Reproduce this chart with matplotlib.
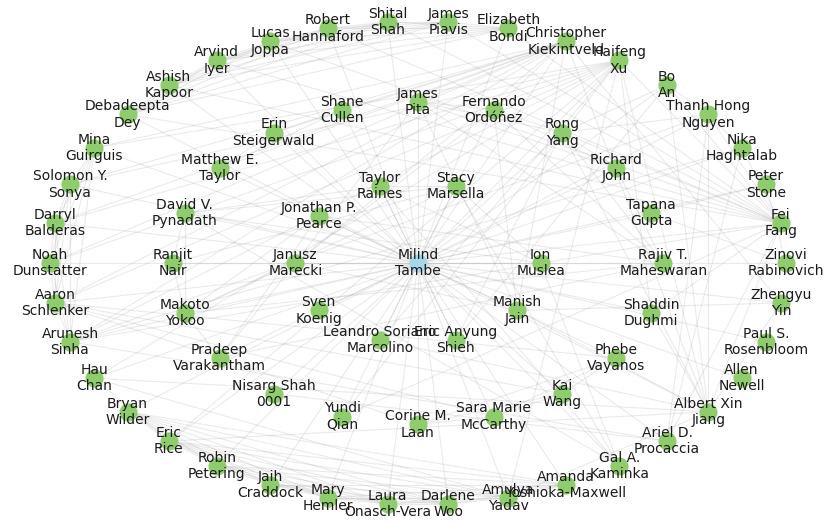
import matplotlib
matplotlib.use('Agg')
import matplotlib.pyplot as plt
from matplotlib.collections import LineCollection
import numpy as np


# shells of the co-author graph (angle slots counter-clockwise from the right)
center = ['Milind Tambe']
inner_shell = ['Ion Muslea', None, 'Stacy Marsella', 'Taylor Raines', 'Jonathan P. Pearce',
               'Janusz Marecki', 'Sven Koenig', 'Leandro Soriano Marcolino', 'Eric Anyung Shieh',
               'Manish Jain']
middle_shell = ['Rajiv T. Maheswaran', 'Tapana Gupta', 'Richard John', 'Rong Yang',
                'Fernando Ordóñez', 'James Pita', 'Shane Cullen', 'Erin Steigerwald',
                'Matthew E. Taylor', 'David V. Pynadath', 'Ranjit Nair', 'Makoto Yokoo',
                'Pradeep Varakantham', 'Nisarg Shah 0001', 'Yundi Qian', 'Corine M. Laan',
                'Sara Marie McCarthy', 'Kai Wang', 'Phebe Vayanos', 'Shaddin Dughmi']
outer_shell = ['Zinovi Rabinovich', 'Fei Fang', 'Peter Stone', 'Nika Haghtalab',
               'Thanh Hong Nguyen', 'Bo An', 'Haifeng Xu', 'Christopher Kiekintveld',
               'Elizabeth Bondi', 'James Piavis', 'Shital Shah', 'Robert Hannaford',
               'Lucas Joppa', 'Arvind Iyer', 'Ashish Kapoor', 'Debadeepta Dey',
               'Mina Guirguis', 'Solomon Y. Sonya', 'Darryl Balderas', 'Noah Dunstatter',
               'Aaron Schlenker', 'Arunesh Sinha', 'Hau Chan', 'Bryan Wilder', 'Eric Rice',
               'Robin Petering', 'Jaih Craddock', 'Mary Hemler', 'Laura Onasch-Vera',
               'Darlene Woo', 'Amulya Yadav', 'Amanda Yoshioka-Maxwell', 'Gal A. Kaminka',
               'Ariel D. Procaccia', 'Albert Xin Jiang', 'Allen Newell', 'Paul S. Rosenbloom',
               'Zhengyu Yin']

# co-author groups (every pair in a group is an edge)
groups = [
    ['Elizabeth Bondi', 'Debadeepta Dey', 'Ashish Kapoor', 'James Piavis', 'Shital Shah',
     'Fei Fang', 'Robert Hannaford', 'Arvind Iyer', 'Lucas Joppa'],
    ['Aaron Schlenker', 'Haifeng Xu', 'Mina Guirguis', 'Christopher Kiekintveld',
     'Arunesh Sinha', 'Solomon Y. Sonya', 'Darryl Balderas', 'Noah Dunstatter'],
    ['Amulya Yadav', 'Bryan Wilder', 'Eric Rice', 'Robin Petering', 'Jaih Craddock',
     'Amanda Yoshioka-Maxwell', 'Mary Hemler', 'Laura Onasch-Vera', 'Darlene Woo'],
    ['Amulya Yadav', 'Hau Chan', 'Albert Xin Jiang', 'Haifeng Xu', 'Eric Rice'],
    ['Nika Haghtalab', 'Fei Fang', 'Thanh Hong Nguyen', 'Arunesh Sinha', 'Ariel D. Procaccia'],
    ['Jonathan P. Pearce', 'Rajiv T. Maheswaran', 'Pradeep Varakantham', 'Makoto Yokoo'],
    ['Ranjit Nair', 'Makoto Yokoo', 'David V. Pynadath', 'Stacy Marsella'],
    ['Pradeep Varakantham', 'Janusz Marecki', 'Makoto Yokoo'],
    ['Paul S. Rosenbloom', 'Allen Newell'],
    ['Gal A. Kaminka', 'David V. Pynadath', 'Ion Muslea', 'Taylor Raines', 'Stacy Marsella'],
    ['James Pita', 'Manish Jain', 'Christopher Kiekintveld', 'Fernando Ordóñez', 'Janusz Marecki'],
    ['Rong Yang', 'Fernando Ordóñez', 'Richard John', 'James Pita', 'Rajiv T. Maheswaran'],
    ['Eric Anyung Shieh', 'Bo An', 'Rong Yang'],
    ['Zhengyu Yin', 'Christopher Kiekintveld', 'Manish Jain', 'Albert Xin Jiang'],
    ['Matthew E. Taylor', 'Christopher Kiekintveld', 'Erin Steigerwald', 'Shane Cullen'],
    ['Haifeng Xu', 'Shaddin Dughmi', 'Fei Fang', 'Albert Xin Jiang'],
    ['Leandro Soriano Marcolino', 'Albert Xin Jiang', 'Haifeng Xu'],
    ['Thanh Hong Nguyen', 'Rong Yang', 'Fei Fang', 'Albert Xin Jiang', 'Bo An'],
    ['Phebe Vayanos', 'Sara Marie McCarthy', 'Kai Wang', 'Aaron Schlenker', 'Corine M. Laan'],
    ['Yundi Qian', 'Fei Fang', 'Haifeng Xu'],
    ['Nisarg Shah 0001', 'Ariel D. Procaccia'],
    ['Peter Stone', 'Zinovi Rabinovich', 'Tapana Gupta'],
]

# shell layout
shells = [center, inner_shell, middle_shell, outer_shell]
pos = {}
for i, shell in enumerate(shells):
    r = i / (len(shells) - 1)
    theta = np.linspace(0, 2 * np.pi, len(shell), endpoint=False)
    for name, t in zip(shell, theta):
        if name is not None:
            pos[name] = (r * np.cos(t), r * np.sin(t))

edges = set()
for other in pos:
    if other != center[0]:
        edges.add((center[0], other))
for g in groups:
    for a in range(len(g)):
        for b in range(a + 1, len(g)):
            edges.add(tuple(sorted((g[a], g[b]))))

fig = plt.figure(figsize=(8.3, 5.23), dpi=100)
ax = fig.add_axes([0, 0, 1, 1])

segs = [[pos[a], pos[b]] for a, b in edges]
ax.add_collection(LineCollection(segs, colors='#999999', alpha=0.2, linewidths=0.8, zorder=1))

names = [n for n in pos if n != center[0]]
xy = np.array([pos[n] for n in names])
ax.scatter(xy[:, 0], xy[:, 1], s=170, color='#8fcc6c', zorder=2, linewidths=0)
ax.scatter([pos[center[0]][0]], [pos[center[0]][1]], s=170, color='#a6d8ea', zorder=2, linewidths=0)

for n, (x, y) in pos.items():
    parts = n.rsplit(' ', 1)
    ax.text(x, y, '\n'.join(parts), ha='center', va='center', fontsize=10,
            color='#1a1a1a', zorder=3, linespacing=1.2)

ax.set_xlim(-1.136, 1.120)
ax.set_ylim(-1.074, 1.087)
ax.axis('off')

fig.savefig('out.png', dpi=100)
